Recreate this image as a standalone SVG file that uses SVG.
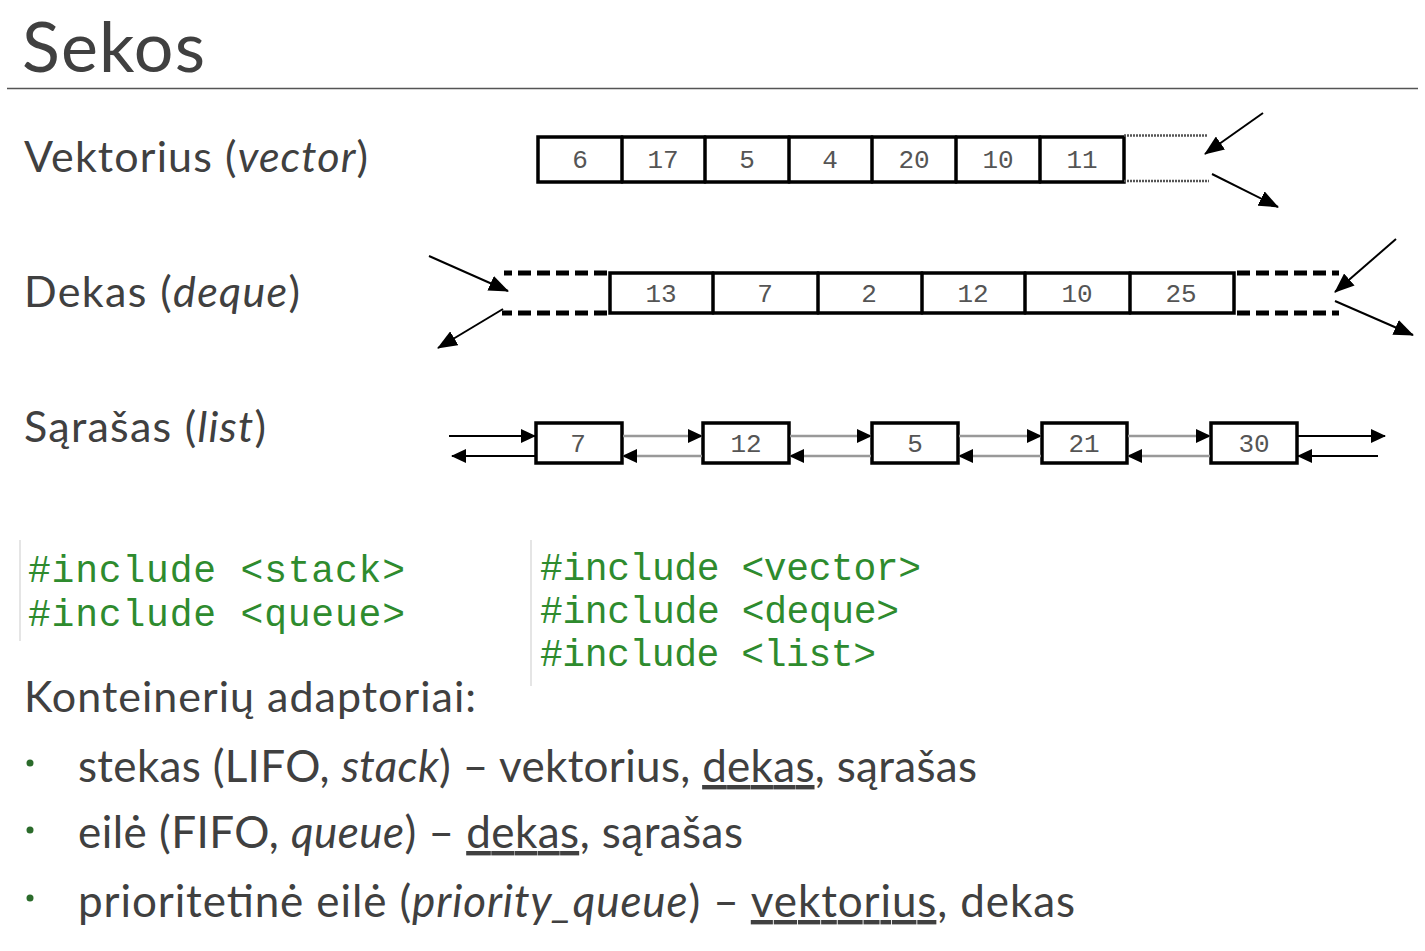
<svg xmlns="http://www.w3.org/2000/svg" width="1425" height="951" viewBox="0 0 1425 951">
<style>
.t{font-family:Lato,"Open Sans","Liberation Sans",sans-serif;fill:#404040}
.i{font-style:italic}
.num{font-family:"Liberation Mono","DejaVu Sans Mono",monospace;font-size:26px;fill:#555;text-anchor:middle}
.code{font-family:"Liberation Mono","Courier New",monospace;fill:#2e8b2e;font-size:38px}
.cell{fill:#fff;stroke:#000;stroke-width:3.5;stroke-linecap:round}
.div{stroke:#000;stroke-width:3.5;stroke-linecap:round}
.dash{stroke:#000;stroke-width:5;stroke-dasharray:13 6;fill:none}
.dot{stroke:#555;stroke-width:2.5;stroke-dasharray:2 1;fill:none}
.arr{stroke:#000;stroke-width:2;fill:none}
.gl{stroke:#999;stroke-width:2.5;fill:none}
.sep{stroke:#ddd;stroke-width:1.5}
.ul{text-decoration:underline}
</style>
<defs>
<marker id="ah" viewBox="0 0 15 14" refX="14" refY="7" markerWidth="15" markerHeight="14" markerUnits="userSpaceOnUse" orient="auto"><path d="M0,0 L15,7 L0,14 z" fill="#000"/></marker>
<marker id="ahl" viewBox="0 0 20 16" refX="19" refY="8" markerWidth="20" markerHeight="16" markerUnits="userSpaceOnUse" orient="auto"><path d="M0,0 L20,8 L0,16 z" fill="#000"/></marker>
</defs>
<rect width="1425" height="951" fill="#fff"/>

<g id="title">
<text class="t" x="22" y="72" font-size="70" fill="#333" textLength="183">Sekos</text>
<line x1="7" y1="88.5" x2="1418" y2="88.5" stroke="#555" stroke-width="1.5"/>
</g>

<g id="label-vector">
<text class="t" x="24" y="172" font-size="43" textLength="344">Vektorius (<tspan class="i">vector</tspan>)</text>
</g>
<g id="label-deque">
<text class="t" x="24" y="307" font-size="43" textLength="276">Dekas (<tspan class="i">deque</tspan>)</text>
</g>
<g id="label-list">
<text class="t" x="24" y="442" font-size="43" textLength="242">Sąrašas (<tspan class="i">list</tspan>)</text>
</g>

<g id="vector">
<rect class="cell" x="538" y="137" width="586" height="45"/>
<line class="div" x1="622" y1="137" x2="622" y2="182"/>
<line class="div" x1="705" y1="137" x2="705" y2="182"/>
<line class="div" x1="789" y1="137" x2="789" y2="182"/>
<line class="div" x1="872" y1="137" x2="872" y2="182"/>
<line class="div" x1="956" y1="137" x2="956" y2="182"/>
<line class="div" x1="1040" y1="137" x2="1040" y2="182"/>
<path class="dot" d="M1124,135.5 H1207 M1124,181 H1209"/>
<text class="num" x="580" y="168">6</text>
<text class="num" x="663" y="168">17</text>
<text class="num" x="747" y="168">5</text>
<text class="num" x="830" y="168">4</text>
<text class="num" x="914" y="168">20</text>
<text class="num" x="998" y="168">10</text>
<text class="num" x="1082" y="168">11</text>
</g>

<g id="deque">
<rect class="cell" x="610" y="273" width="624" height="40"/>
<line class="div" x1="713" y1="273" x2="713" y2="313"/>
<line class="div" x1="818" y1="273" x2="818" y2="313"/>
<line class="div" x1="922" y1="273" x2="922" y2="313"/>
<line class="div" x1="1025" y1="273" x2="1025" y2="313"/>
<line class="div" x1="1130" y1="273" x2="1130" y2="313"/>
<path class="dash" d="M607,273 H504 M607,313 H502"/>
<path class="dash" d="M1237,273 H1339 M1237,313 H1339"/>
<text class="num" x="661" y="302">13</text>
<text class="num" x="765" y="302">7</text>
<text class="num" x="869" y="302">2</text>
<text class="num" x="973" y="302">12</text>
<text class="num" x="1077" y="302">10</text>
<text class="num" x="1181" y="302">25</text>
</g>

<g id="list-7"><rect class="cell" x="536" y="423" width="86" height="40"/><text class="num" x="578" y="452">7</text></g>
<g id="list-12"><rect class="cell" x="703" y="423" width="86" height="40"/><text class="num" x="746" y="452">12</text></g>
<g id="list-5"><rect class="cell" x="872" y="423" width="86" height="40"/><text class="num" x="915" y="452">5</text></g>
<g id="list-21"><rect class="cell" x="1042" y="423" width="85" height="40"/><text class="num" x="1084" y="452">21</text></g>
<g id="list-30"><rect class="cell" x="1211" y="423" width="86" height="40"/><text class="num" x="1254" y="452">30</text></g>

<g id="connectors">
<line class="arr" x1="1263" y1="113" x2="1205" y2="154" marker-end="url(#ahl)"/>
<line class="arr" x1="1212" y1="174" x2="1278" y2="207" marker-end="url(#ahl)"/>
<line class="arr" x1="429" y1="256" x2="508" y2="291" marker-end="url(#ahl)"/>
<line class="arr" x1="503" y1="309" x2="438" y2="348" marker-end="url(#ahl)"/>
<line class="arr" x1="1396" y1="239" x2="1335" y2="292" marker-end="url(#ahl)"/>
<line class="arr" x1="1335" y1="301" x2="1413" y2="335" marker-end="url(#ahl)"/>

<line class="arr" x1="449" y1="436" x2="535" y2="436" marker-end="url(#ah)"/>
<line class="arr" x1="536" y1="456" x2="452" y2="456" marker-end="url(#ah)"/>
<line class="gl" x1="623" y1="436" x2="702" y2="436" marker-end="url(#ah)"/>
<line class="gl" x1="702" y1="456" x2="623" y2="456" marker-end="url(#ah)"/>
<line class="gl" x1="790" y1="436" x2="871" y2="436" marker-end="url(#ah)"/>
<line class="gl" x1="871" y1="456" x2="790" y2="456" marker-end="url(#ah)"/>
<line class="gl" x1="959" y1="436" x2="1041" y2="436" marker-end="url(#ah)"/>
<line class="gl" x1="1041" y1="456" x2="959" y2="456" marker-end="url(#ah)"/>
<line class="gl" x1="1128" y1="436" x2="1210" y2="436" marker-end="url(#ah)"/>
<line class="gl" x1="1210" y1="456" x2="1128" y2="456" marker-end="url(#ah)"/>
<line class="arr" x1="1298" y1="436" x2="1385" y2="436" marker-end="url(#ah)"/>
<line class="arr" x1="1378" y1="456" x2="1298" y2="456" marker-end="url(#ah)"/>
</g>

<g id="code-left">
<line class="sep" x1="20" y1="540" x2="20" y2="641"/>
<text class="code" x="28" y="582" textLength="377">#include &lt;stack&gt;</text>
<text class="code" x="28" y="626" textLength="377">#include &lt;queue&gt;</text>
</g>
<g id="code-right">
<line class="sep" x1="531" y1="540" x2="531" y2="686"/>
<text class="code" x="540" y="580" textLength="381">#include &lt;vector&gt;</text>
<text class="code" x="540" y="623" textLength="359">#include &lt;deque&gt;</text>
<text class="code" x="540" y="666" textLength="336">#include &lt;list&gt;</text>
</g>

<g id="adaptors">
<text class="t" x="24" y="712" font-size="43" textLength="452">Konteinerių adaptoriai:</text>
<circle cx="30" cy="763" r="3.5" fill="#2b6b2b"/>
<circle cx="30" cy="830" r="3.5" fill="#2b6b2b"/>
<circle cx="30" cy="898" r="3.5" fill="#2b6b2b"/>
<text class="t" x="78" y="782" font-size="44" textLength="899">stekas (LIFO, <tspan class="i">stack</tspan>) – vektorius, <tspan class="ul">dekas</tspan>, sąrašas</text>
<text class="t" x="78" y="848" font-size="44" textLength="665">eilė (FIFO, <tspan class="i">queue</tspan>) – <tspan class="ul">dekas</tspan>, sąrašas</text>
<text class="t" x="78" y="917" font-size="44" textLength="997">prioritetinė eilė (<tspan class="i">priority_queue</tspan>) – <tspan class="ul">vektorius</tspan>, dekas</text>
</g>
</svg>
